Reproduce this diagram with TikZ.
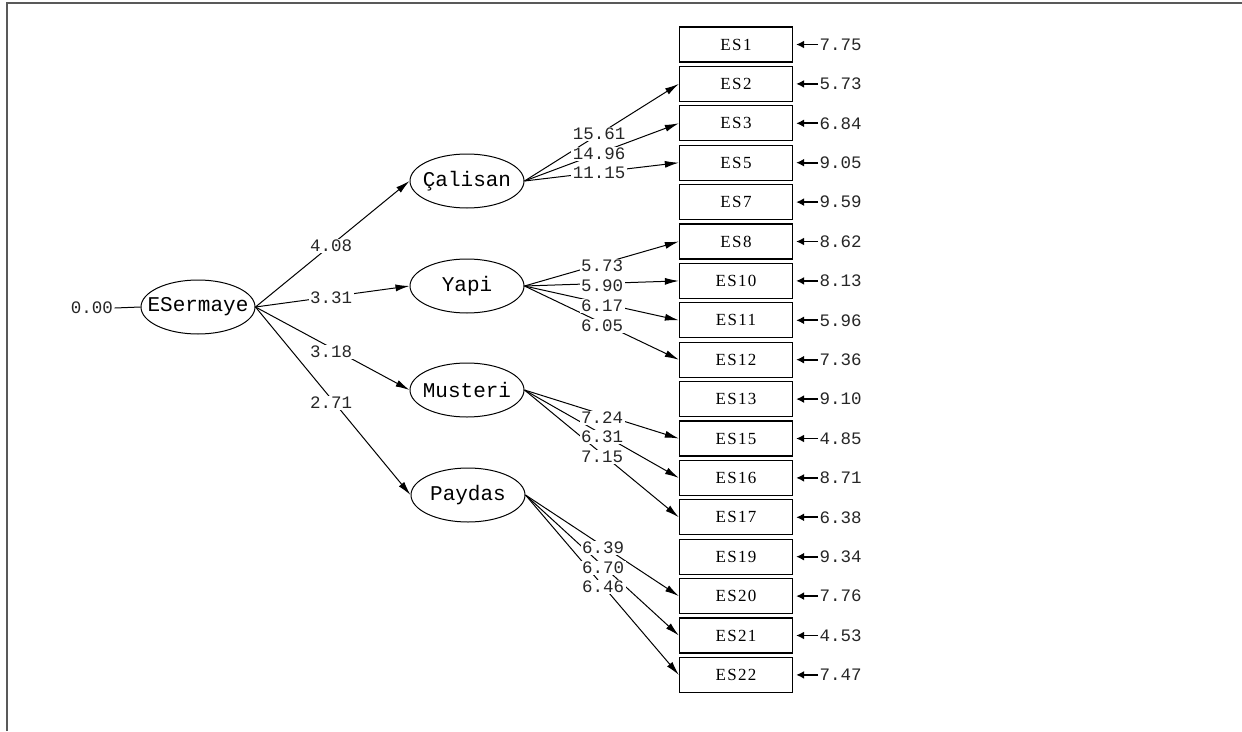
\documentclass[tikz,border=0pt]{standalone}
\usepackage{fontspec}
\usetikzlibrary{arrows.meta,shapes.geometric}
\newfontfamily\monofnt{Liberation Mono}
\newfontfamily\boxfnt[LetterSpace=8]{Liberation Serif}
\begin{document}
\begin{tikzpicture}[x=1pt,y=-1pt,
  lat/.style={ellipse,draw,line width=1pt,minimum width=114pt,minimum height=54pt,
    inner xsep=-11pt,inner ysep=0pt,
    font=\monofnt\fontsize{21}{21}\selectfont},
  obs/.style={rectangle,draw,line width=1.3pt,minimum width=113pt,minimum height=35pt,inner sep=0pt,
    font=\boxfnt\fontsize{17}{17}\selectfont},
  num/.style={fill=white,inner sep=1.5pt,font=\monofnt\fontsize{17.5}{17.5}\selectfont,text=black!85},
  errnum/.style={inner sep=1.5pt,anchor=west,font=\monofnt\fontsize{17.5}{17.5}\selectfont,text=black!85},
  pathline/.style={line width=1pt,-{Latex[length=14pt,width=7pt]}},
  errline/.style={line width=1.8pt,-{Latex[length=8pt,width=8pt]},shorten >=3pt},
  framelc/.style={draw=black!65,line width=2pt}
]
\useasboundingbox (0,0) rectangle (1242,731);
\draw[framelc] (7,731) -- (7,3) -- (1242,3);

% latent variables
\node[lat] (ES) at (198,307) {ESermaye};
\node[lat] (CA) at (467,181) {Çalisan};
\node[lat] (YA) at (467,286) {Yapi};
\node[lat] (MU) at (467,390) {Musteri};
\node[lat] (PA) at (468,495) {Paydas};

% observed variables and error terms
\foreach \nm/\lab/\i/\ev in {b1/ES1/0/7.75, b2/ES2/1/5.73, b3/ES3/2/6.84, b5/ES5/3/9.05,
   b7/ES7/4/9.59, b8/ES8/5/8.62, b10/ES10/6/8.13, b11/ES11/7/5.96, b12/ES12/8/7.36,
   b13/ES13/9/9.10, b15/ES15/10/4.85, b16/ES16/11/8.71, b17/ES17/12/6.38,
   b19/ES19/13/9.34, b20/ES20/14/7.76, b21/ES21/15/4.53, b22/ES22/16/7.47}{
  \node[obs] (\nm) at (736,{44.5+39.4*\i}) {\lab};
  \node[errnum] (e\nm) at (818,{44.5+39.4*\i}) {\ev};
  \draw[errline] (e\nm.west) -- (\nm.east);
}

% variance of ESermaye
\node[num] (v0) at (92,308) {0.00};
\draw[line width=1pt] (v0.east) -- (ES.west);

% second-order paths
\draw[pathline] (ES.east) -- (CA.west);
\draw[pathline] (ES.east) -- (YA.west);
\draw[pathline] (ES.east) -- (MU.west);
\draw[pathline] (ES.east) -- (PA.west);

% first-order paths
\draw[pathline] (CA.east) -- (b2.west);
\draw[pathline] (CA.east) -- (b3.west);
\draw[pathline] (CA.east) -- (b5.west);
\draw[pathline] (YA.east) -- (b8.west);
\draw[pathline] (YA.east) -- (b10.west);
\draw[pathline] (YA.east) -- (b11.west);
\draw[pathline] (YA.east) -- (b12.west);
\draw[pathline] (MU.east) -- (b15.west);
\draw[pathline] (MU.east) -- (b16.west);
\draw[pathline] (MU.east) -- (b17.west);
\draw[pathline] (PA.east) -- (b20.west);
\draw[pathline] (PA.east) -- (b21.west);
\draw[pathline] (PA.east) -- (b22.west);

% path labels
\node[num] (l1) at (331,246) {4.08};
\node[num] (l2) at (331,298) {3.31};
\node[num] (l3) at (331,352) {3.18};
\node[num] (l4) at (331,403) {2.71};

\node[num] (c1) at (599,134) {15.61};
\node[num] (c2) at (599,154) {14.96};
\node[num] (c3) at (599,173) {11.15};

\node[num] (y1) at (602,266) {5.73};
\node[num] (y2) at (602,286) {5.90};
\node[num] (y3) at (602,306) {6.17};
\node[num] (y4) at (602,326) {6.05};

\node[num] (m1) at (602,418) {7.24};
\node[num] (m2) at (602,437) {6.31};
\node[num] (m3) at (602,457) {7.15};

\node[num] (p1) at (603,548) {6.39};
\node[num] (p2) at (603,568) {6.70};
\node[num] (p3) at (603,587) {6.46};
\end{tikzpicture}
\end{document}
